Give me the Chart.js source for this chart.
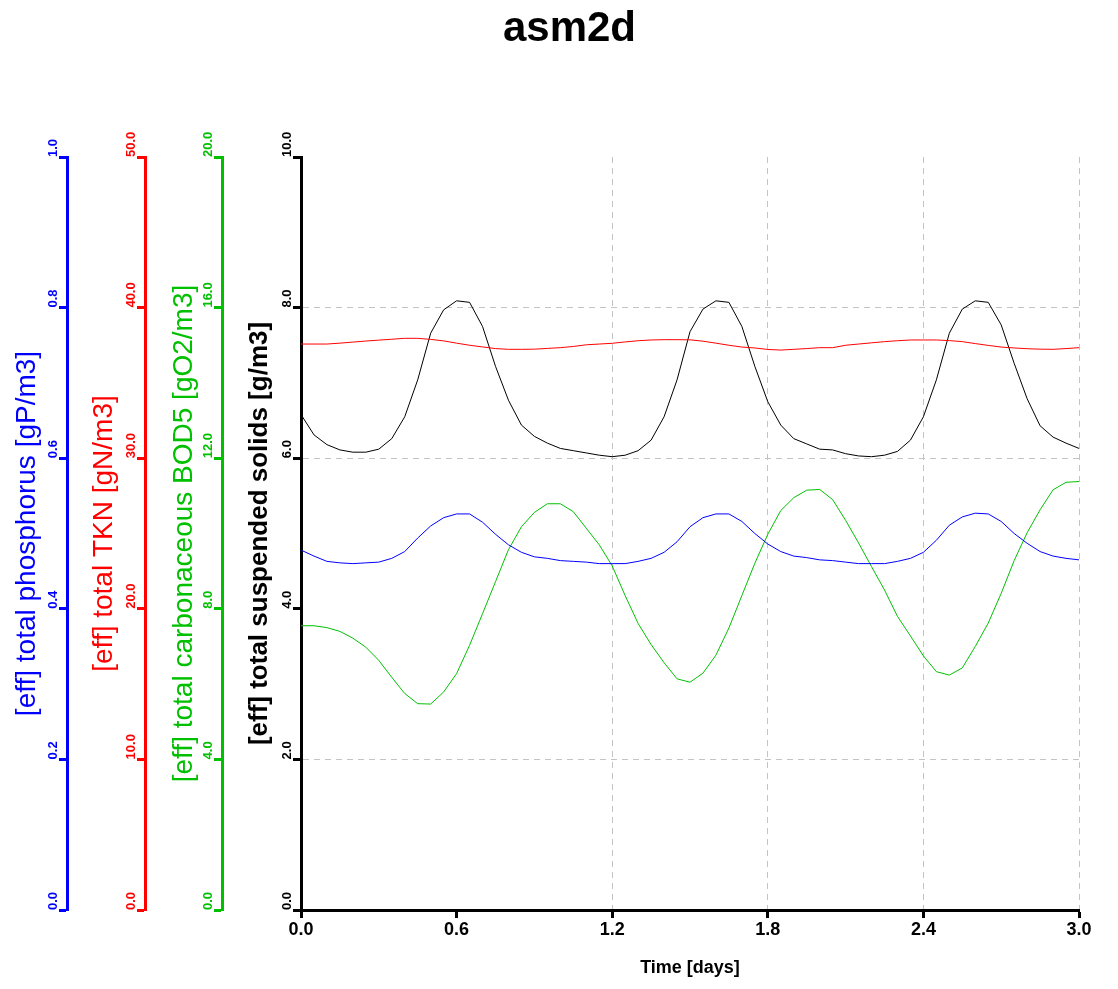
<!DOCTYPE html>
<html>
<head>
<meta charset="utf-8">
<title>asm2d</title>
<script src="https://cdn.jsdelivr.net/npm/chart.js@4.4.1/dist/chart.umd.min.js"></script>
<style>
  html, body { margin: 0; padding: 0; background: #fff; }
  #wrap { position: relative; width: 1118px; height: 989px; }
  #title {
    position: absolute; left: 0; top: 6px; width: 1139px;
    text-align: center;
    font: bold 42px 'Liberation Sans', Arial, sans-serif;
    line-height: 42px;
    color: #000;
  }
  canvas { position: absolute; left: 0; top: 0; }
</style>
</head>
<body>
<div id="wrap">
  <canvas id="chart" width="1118" height="989"></canvas>
  <div id="title">asm2d</div>
</div>
<script>
// effluent time series, sampled every 0.05 d
const times = [
  0.00, 0.05, 0.10, 0.15, 0.20, 0.25, 0.30, 0.35, 0.40, 0.45, 0.50, 0.55, 0.60, 0.65, 0.70, 0.75, 0.80, 0.85, 0.90, 0.95, 1.00,
  1.05, 1.10, 1.15, 1.20, 1.25, 1.30, 1.35, 1.40, 1.45, 1.50, 1.55, 1.60, 1.65, 1.70, 1.75, 1.80, 1.85, 1.90, 1.95, 2.00,
  2.05, 2.10, 2.15, 2.20, 2.25, 2.30, 2.35, 2.40, 2.45, 2.50, 2.55, 2.60, 2.65, 2.70, 2.75, 2.80, 2.85, 2.90, 2.95, 3.00
];

// total suspended solids [g/m3]
const tss = [
  6.58, 6.31, 6.18, 6.11, 6.08, 6.08, 6.12, 6.26, 6.55, 7.04, 7.66, 7.97, 8.09, 8.07, 7.75, 7.22, 6.77, 6.44, 6.29, 6.20, 6.13,
  6.10, 6.07, 6.04, 6.02, 6.04, 6.10, 6.24, 6.55, 7.04, 7.68, 7.98, 8.09, 8.07, 7.75, 7.22, 6.75, 6.44, 6.26, 6.19, 6.12,
  6.11, 6.06, 6.03, 6.02, 6.04, 6.09, 6.24, 6.55, 7.04, 7.66, 7.98, 8.09, 8.07, 7.77, 7.26, 6.79, 6.43, 6.28, 6.20, 6.13
];

// total Kjeldahl nitrogen [gN/m3]
const tkn = [
  37.58, 37.58, 37.58, 37.64, 37.71, 37.78, 37.84, 37.90, 37.96, 37.96, 37.89, 37.79, 37.64, 37.50, 37.39, 37.28, 37.23, 37.23, 37.24, 37.29, 37.34,
  37.42, 37.53, 37.58, 37.63, 37.72, 37.80, 37.85, 37.87, 37.87, 37.86, 37.77, 37.64, 37.50, 37.38, 37.32, 37.22, 37.18, 37.23, 37.28, 37.34,
  37.34, 37.50, 37.58, 37.66, 37.74, 37.80, 37.85, 37.85, 37.85, 37.81, 37.74, 37.61, 37.49, 37.38, 37.32, 37.27, 37.24, 37.23, 37.28, 37.34
];

// total phosphorus [gP/m3]
const tp = [
  0.478, 0.470, 0.463, 0.461, 0.460, 0.461, 0.462, 0.467, 0.476, 0.494, 0.510, 0.521, 0.526, 0.526, 0.515, 0.499, 0.485, 0.475, 0.469, 0.467, 0.464,
  0.463, 0.462, 0.460, 0.460, 0.460, 0.463, 0.467, 0.475, 0.489, 0.509, 0.521, 0.526, 0.526, 0.516, 0.500, 0.486, 0.476, 0.470, 0.468, 0.465,
  0.464, 0.462, 0.460, 0.460, 0.460, 0.463, 0.467, 0.475, 0.491, 0.511, 0.522, 0.527, 0.526, 0.516, 0.500, 0.487, 0.476, 0.470, 0.467, 0.465
];

// total carbonaceous BOD5 [gO2/m3]
const bod5 = [
  7.55, 7.55, 7.50, 7.40, 7.22, 6.98, 6.63, 6.18, 5.75, 5.48, 5.47, 5.79, 6.28, 7.03, 7.87, 8.72, 9.57, 10.18, 10.56, 10.79, 10.79,
  10.58, 10.14, 9.70, 9.14, 8.35, 7.61, 7.05, 6.57, 6.14, 6.05, 6.29, 6.77, 7.49, 8.35, 9.21, 9.98, 10.61, 10.95, 11.15, 11.17,
  10.90, 10.35, 9.75, 9.12, 8.50, 7.80, 7.28, 6.75, 6.33, 6.24, 6.43, 7.00, 7.62, 8.41, 9.28, 10.02, 10.63, 11.16, 11.36, 11.38
];

// gridlines only drawn at these tick values
const xGridTicks = [1.2, 1.8, 2.4, 3.0];
const yGridTicks = [2, 6, 8];

const SANS = "'Liberation Sans', Arial, sans-serif";
const GRID = '#c4c4c4';
const BLUE = '#0000ff', RED = '#ff0000', GREEN = '#00c000', BLACK = '#000000';

const pts = vals => times.map((t, i) => ({ x: t, y: vals[i] }));
const hasTick = (list, v) => list.some(g => Math.abs(g - v) < 1e-6);

// linear axis whose rotated tick labels start at the tick and run upwards
class UpLinearScale extends Chart.LinearScale {
  _computeLabelItems(chartArea) {
    const items = super._computeLabelItems(chartArea);
    items.forEach(it => {
      if (it.options) it.options.textAlign = 'left';
      else it.textAlign = 'left';
    });
    return items;
  }
}
UpLinearScale.id = 'upLinear';
UpLinearScale.defaults = Chart.LinearScale.defaults;
Chart.register(UpLinearScale);

function leftAxis(color, max, step, title, weight, boxWidth, titlePad, bold) {
  return {
    type: 'upLinear',
    position: 'left',
    weight: weight,
    min: 0,
    max: max,
    afterFit: s => { s.width = boxWidth; },
    border: { display: true, color: color, width: 3 },
    grid: { drawOnChartArea: false, tickLength: 8, tickWidth: 3, tickColor: color, color: color },
    ticks: {
      stepSize: step,
      autoSkip: false,
      minRotation: 90,
      maxRotation: 90,
      padding: 6,
      color: color,
      font: { family: SANS, size: 13, weight: 'bold' },
      callback: v => v.toFixed(1)
    },
    title: {
      display: true,
      text: title,
      color: color,
      padding: { top: titlePad, bottom: 0 },
      font: { family: SANS, size: bold ? 26 : 28, weight: bold ? 'bold' : 'normal' }
    }
  };
}

const scales = {
  x: {
    type: 'linear',
    min: 0,
    max: 3,
    afterFit: s => { s.height = 79; },
    border: { display: true, color: BLACK, width: 3, dash: [6, 5] },
    grid: {
      color: c => (c.tick && hasTick(xGridTicks, c.tick.value)) ? GRID : 'rgba(0,0,0,0)',
      lineWidth: 1,
      tickLength: 8,
      tickWidth: 3,
      tickColor: BLACK
    },
    ticks: {
      stepSize: 0.6,
      autoSkip: false,
      maxRotation: 0,
      padding: 1,
      color: BLACK,
      font: { family: SANS, size: 18, weight: 'bold' },
      callback: v => v.toFixed(1)
    },
    title: {
      display: true,
      text: 'Time [days]',
      color: BLACK,
      padding: { top: 0, bottom: 10 },
      font: { family: SANS, size: 18, weight: 'bold' }
    }
  },
  yP: leftAxis(BLUE, 1.0, 0.2, '[eff] total phosphorus [gP/m3]', 4, 67, 10, false),
  yN: leftAxis(RED, 50, 10, '[eff] total TKN [gN/m3]', 3, 78, 20, false),
  yBOD: leftAxis(GREEN, 20, 4, '[eff] total carbonaceous BOD5 [gO2/m3]', 2, 77, 22, false),
  yTSS: leftAxis(BLACK, 10, 2, '[eff] total suspended solids [g/m3]', 1, 79, 22, true)
};

// main axis carries the horizontal dashed gridlines
scales.yTSS.grid = {
  drawOnChartArea: true,
  color: c => (c.tick && hasTick(yGridTicks, c.tick.value)) ? GRID : 'rgba(0,0,0,0)',
  lineWidth: 1,
  tickLength: 8,
  tickWidth: 3,
  tickColor: BLACK
};
scales.yTSS.border.dash = [6, 5];

const line = (vals, color, axis) => ({
  data: pts(vals),
  yAxisID: axis,
  borderColor: color,
  borderWidth: 1,
  pointRadius: 0,
  tension: 0,
  fill: false
});

new Chart(document.getElementById('chart'), {
  type: 'line',
  data: {
    datasets: [
      line(tp, BLUE, 'yP'),
      line(bod5, GREEN, 'yBOD'),
      line(tkn, RED, 'yN'),
      line(tss, BLACK, 'yTSS')
    ]
  },
  options: {
    responsive: false,
    animation: false,
    layout: { padding: { left: 0, right: 39, top: 157, bottom: 0 } },
    plugins: {
      legend: { display: false },
      tooltip: { enabled: false },
      title: { display: false }
    },
    scales: scales
  }
});
</script>
</body>
</html>
